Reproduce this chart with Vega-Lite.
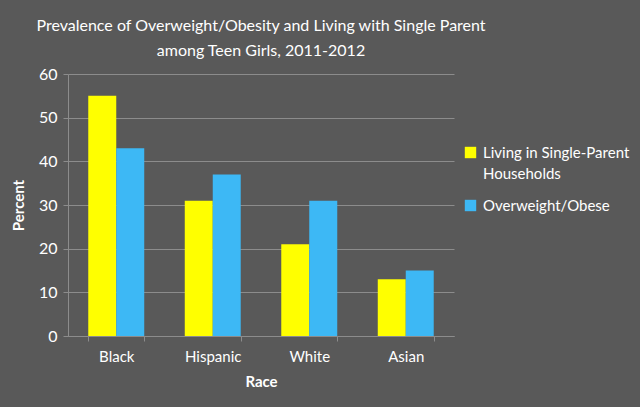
{
  "$schema": "https://vega.github.io/schema/vega-lite/v6.json",
  "width": 386,
  "height": 262,
  "autosize": {"type": "none"},
  "padding": {"left": 68, "top": 74, "right": 186, "bottom": 71},
  "background": "#595959",
  "title": {
    "text": ["Prevalence of Overweight/Obesity and Living with Single Parent", "among Teen Girls, 2011-2012"],
    "font": "Lato",
    "fontSize": 16,
    "fontWeight": "normal",
    "color": "white",
    "anchor": "middle",
    "offset": 7,
    "lineHeight": 25
  },
  "config": {
    "view": {"stroke": null},
    "font": "Lato",
    "style": {"guide-label": {"lineHeight": 21}}
  },
  "data": {
    "values": [
      {"race": "Black", "series": "Living in Single-Parent Households", "value": 55},
      {"race": "Black", "series": "Overweight/Obese", "value": 43},
      {"race": "Hispanic", "series": "Living in Single-Parent Households", "value": 31},
      {"race": "Hispanic", "series": "Overweight/Obese", "value": 37},
      {"race": "White", "series": "Living in Single-Parent Households", "value": 21},
      {"race": "White", "series": "Overweight/Obese", "value": 31},
      {"race": "Asian", "series": "Living in Single-Parent Households", "value": 13},
      {"race": "Asian", "series": "Overweight/Obese", "value": 15}
    ]
  },
  "mark": {"type": "bar"},
  "encoding": {
    "x": {
      "field": "race",
      "type": "nominal",
      "sort": ["Black", "Hispanic", "White", "Asian"],
      "scale": {"paddingInner": 0.42, "paddingOuter": 0.21},
      "axis": {
        "title": "Race",
        "titleColor": "white",
        "titleFont": "Lato",
        "titleFontSize": 15,
        "titleFontWeight": "bold",
        "titlePadding": 10,
        "labelColor": "white",
        "labelFont": "Lato",
        "labelFontSize": 15,
        "labelAngle": 0,
        "labelPadding": 8,
        "domainColor": "#8c8c8c",
        "tickColor": "#8c8c8c",
        "tickBand": "extent",
        "tickSize": 5,
        "grid": false
      }
    },
    "xOffset": {"field": "series", "type": "nominal"},
    "y": {
      "field": "value",
      "type": "quantitative",
      "scale": {"domain": [0, 60]},
      "axis": {
        "title": "Percent",
        "titleColor": "white",
        "titleFont": "Lato",
        "titleFontSize": 15,
        "titleFontWeight": "bold",
        "titlePadding": 12,
        "labelColor": "white",
        "labelFont": "Lato",
        "labelFontSize": 16,
        "labelPadding": 6,
        "values": [0, 10, 20, 30, 40, 50, 60],
        "domainColor": "#8c8c8c",
        "tickColor": "#8c8c8c",
        "tickSize": 5,
        "gridColor": "#8c8c8c",
        "gridWidth": 1
      }
    },
    "color": {
      "field": "series",
      "type": "nominal",
      "scale": {"range": ["#FFFF00", "#3DB8F5"]},
      "legend": {
        "title": null,
        "orient": "none",
        "legendX": 395,
        "legendY": 71,
        "symbolType": "square",
        "symbolSize": 130,
        "symbolStrokeWidth": 0,
        "labelColor": "white",
        "labelFont": "Lato",
        "labelFontSize": 15,
        "labelLimit": 200,
        "labelOffset": 5,
        "rowPadding": 16,
        "labelExpr": "datum.label == 'Living in Single-Parent Households' ? ['Living in Single-Parent', 'Households'] : datum.label"
      }
    }
  }
}
